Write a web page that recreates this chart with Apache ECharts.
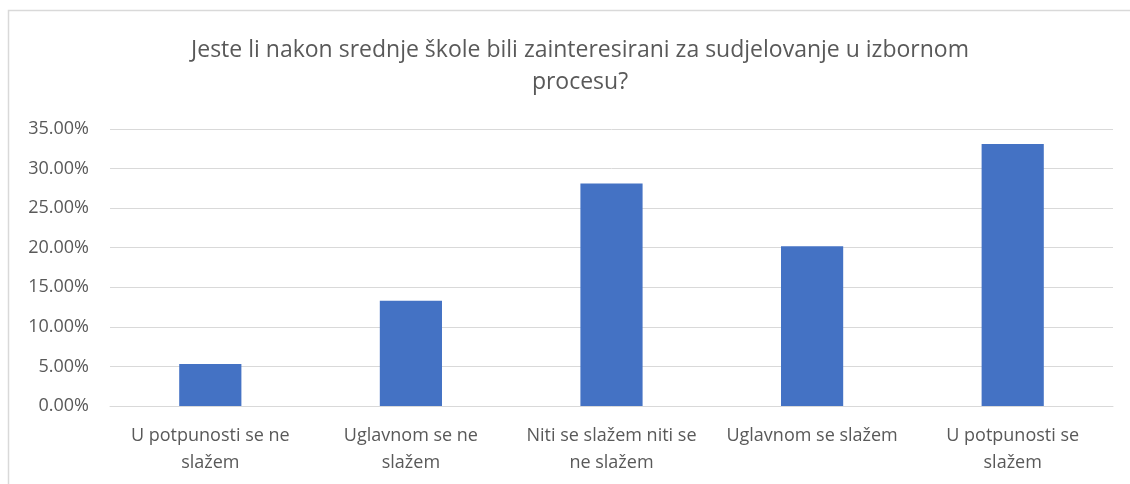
<!DOCTYPE html>
<html lang="hr">
<head>
    <meta charset="UTF-8">
    <title>Izborni proces</title>
    <script src="https://cdn.jsdelivr.net/npm/echarts@6/dist/echarts.min.js"></script>
    <style>
        html, body { margin: 0; padding: 0; background: #fff; }
    </style>
</head>
<body>
<div id="main" style="width: 1130px;height:484px;"></div>

<script type="text/javascript">
    // podaci
    var categories = [
        'U potpunosti se ne\nslažem',
        'Uglavnom se ne\nslažem',
        'Niti se slažem niti se\nne slažem',
        'Uglavnom se slažem',
        'U potpunosti se\nslažem'
    ];
    var values = [5.3, 13.3, 28.1, 20.2, 33.1];
    var yTicks = [0, 5, 10, 15, 20, 25, 30, 35];

    var font = '"Open Sans", "Liberation Sans", sans-serif';

    var myChart = echarts.init(document.getElementById('main'));

    myChart.setOption({
        animation: false,
        textStyle: { fontFamily: font },
        title: {
            text: 'Jeste li nakon srednje škole bili zainteresirani za sudjelovanje u izbornom\nprocesu?',
            left: 575,
            textAlign: 'center',
            top: 29,
            textStyle: {
                fontFamily: font,
                fontSize: 23,
                fontWeight: 'normal',
                color: '#595959',
                lineHeight: 32
            }
        },
        // okvir grafikona
        graphic: [{
            type: 'rect',
            shape: { x: 8.5, y: 10.5, width: 1200, height: 600 },
            style: { fill: 'none', stroke: '#d9d9d9', lineWidth: 1.5 },
            silent: true
        }],
        grid: {
            left: 110,
            right: 17,
            top: 129,
            bottom: 78
        },
        xAxis: {
            type: 'category',
            data: categories,
            axisLine: { lineStyle: { color: '#d9d9d9', width: 1 } },
            axisTick: { show: false },
            axisLabel: {
                color: '#595959',
                fontSize: 18,
                lineHeight: 27,
                margin: 16,
                interval: 0
            }
        },
        yAxis: {
            type: 'value',
            min: yTicks[0],
            max: yTicks[yTicks.length - 1],
            interval: 5,
            axisLine: { show: false },
            axisTick: { show: false },
            splitLine: { lineStyle: { color: '#d9d9d9', width: 1 } },
            axisLabel: {
                color: '#595959',
                fontSize: 18,
                margin: 21,
                formatter: function (v) { return v.toFixed(2) + '%'; }
            }
        },
        series: [{
            name: 'Postotak',
            type: 'bar',
            data: values,
            barWidth: '31%',
            itemStyle: { color: '#4472c4' }
        }]
    });
</script>
</body>
</html>
